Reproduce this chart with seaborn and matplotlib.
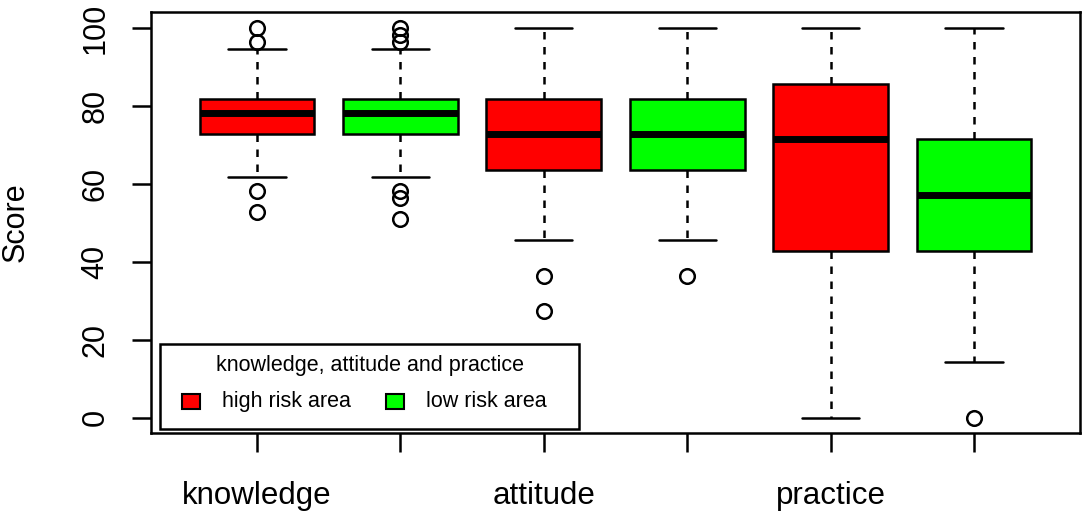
import matplotlib
matplotlib.use("Agg")
import matplotlib.pyplot as plt
from matplotlib.patches import Rectangle
import matplotlib.transforms as mtransforms
import seaborn as sns

# box statistics (scores in %)
domains = ["knowledge", "attitude", "practice"]
areas = ["high risk area", "low risk area"]
colors = {"high risk area": "#ff0000", "low risk area": "#00ff00"}

q1 = [72.7, 72.7, 63.6, 63.6, 42.9, 42.9]
med = [78.2, 78.2, 72.7, 72.7, 71.4, 57.1]
q3 = [81.8, 81.8, 81.8, 81.8, 85.7, 71.4]
whislo = [61.8, 61.8, 45.5, 45.5, 0.0, 14.3]
whishi = [94.5, 94.5, 100.0, 100.0, 100.0, 100.0]
fliers = [
    [100.0, 96.4, 58.2, 52.7],
    [100.0, 98.2, 96.4, 58.2, 56.4, 50.9],
    [36.4, 27.3],
    [36.4],
    [],
    [0.0],
]
yticks = [0, 20, 40, 60, 80, 100]
box_area = areas * 3

sns.set_style("white")
plt.rcParams["font.family"] = ["Liberation Sans", "DejaVu Sans"]
plt.rcParams["text.color"] = "black"
plt.rcParams["axes.labelcolor"] = "black"
plt.rcParams["xtick.color"] = "black"
plt.rcParams["ytick.color"] = "black"
plt.rcParams["ytick.labelsize"] = 22

W, H = 1084, 514
fig = plt.figure(figsize=(W / 100, H / 100), dpi=100)
ax = fig.add_axes([151 / W, 1 - 433.3 / H, (1080 - 151) / W, (433.3 - 12.4) / H])
# pixel coords measured from the top-left corner of the figure
px = mtransforms.Affine2D().scale(1 / W, -1 / H).translate(0, 1) + fig.transFigure

stats = []
for i in range(len(med)):
    stats.append(dict(q1=q1[i], med=med[i], q3=q3[i],
                      whislo=whislo[i], whishi=whishi[i], fliers=fliers[i]))
positions = list(range(1, len(med) + 1))

lw = 1.8
bp = ax.bxp(stats, positions=positions, widths=0.8, patch_artist=True,
            showfliers=True, manage_ticks=False,
            boxprops=dict(linewidth=lw, edgecolor="black"),
            medianprops=dict(color="black", linewidth=5, solid_capstyle="butt"),
            whiskerprops=dict(color="black", linewidth=lw, linestyle=(0, (3, 3))),
            capprops=dict(color="black", linewidth=lw),
            capwidths=0.4,
            flierprops=dict(marker="o", markersize=10.5, markerfacecolor="none",
                            markeredgecolor="black", markeredgewidth=lw))
for patch, a in zip(bp["boxes"], box_area):
    patch.set_facecolor(colors[a])

ax.set_xlim(0.26, 6.74)
ax.set_ylim(-4, 104)
ax.set_xticks(positions)
ax.set_xticklabels([""] * len(positions))
ax.set_yticks(yticks)
ax.tick_params(axis="both", direction="out", length=14, width=lw, color="black",
               left=True, bottom=True)
ax.tick_params(axis="y", pad=15, labelsize=22, labelrotation=90)
for lab in ax.get_yticklabels():
    lab.set_verticalalignment("center")
for s in ax.spines.values():
    s.set_color("black")
    s.set_linewidth(lw)

# group labels under the high-risk boxes
trans = mtransforms.blended_transform_factory(ax.transData, ax.transAxes)
for j, d in enumerate(domains):
    ax.text(positions[2 * j], -0.168, d, transform=trans, ha="center",
            va="baseline", fontsize=22.5)

fig.text(16, 222.5, "Score", transform=px, rotation=90, ha="center",
         va="center", fontsize=22)

# legend box drawn the R way
fig.patches.append(Rectangle((160, 344), 419, 85, transform=px, fill=True,
                             facecolor="white", edgecolor="black", linewidth=lw,
                             zorder=5))
fig.text(370, 365, "knowledge, attitude and practice", transform=px,
         ha="center", va="center", fontsize=15.5, zorder=6)
for a, x0 in zip(areas, [182, 386]):
    fig.patches.append(Rectangle((x0, 394), 18, 15, transform=px,
                                 facecolor=colors[a], edgecolor="black",
                                 linewidth=1.5, zorder=6))
    fig.text(x0 + 40, 401.5, a, transform=px, ha="left", va="center",
             fontsize=15.5, zorder=6)

fig.savefig("out.png", dpi=100)
